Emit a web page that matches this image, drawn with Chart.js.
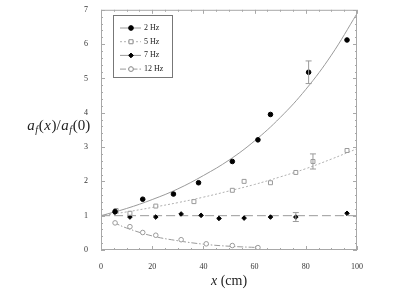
<!DOCTYPE html>
<html>
<head>
<meta charset="utf-8">
<script src="https://cdn.jsdelivr.net/npm/chart.js@4"></script>
<style>
  html, body { margin: 0; padding: 0; background: #fff; }
  #wrap { width: 402px; height: 296px; }
</style>
</head>
<body>
<div id="wrap"><canvas id="chart" width="402" height="296"></canvas></div>
<script>
// 2 Hz
const xTwo = [5.5, 16.3, 28.3, 38.1, 51.3, 61.3, 66.2, 81.1, 96.1];
const yTwo = [1.12, 1.48, 1.63, 1.96, 2.58, 3.21, 3.95, 5.18, 6.12];
const eTwo = [0, 0, 0, 0, 0, 0, 0, 0.33, 0];
const xTwoFit = [0, 10, 20, 30, 40, 50, 60, 70, 80, 90, 100];
const yTwoFit = [1, 1.21, 1.47, 1.78, 2.17, 2.62, 3.18, 3.86, 4.68, 5.68, 6.89];

// 5 Hz
const xFive = [5.9, 11.3, 21.4, 36.3, 51.3, 55.9, 66.2, 76.1, 82.8, 96.1];
const yFive = [1.15, 1.07, 1.28, 1.41, 1.74, 2.0, 1.96, 2.26, 2.58, 2.9];
const eFive = [0, 0, 0, 0, 0, 0, 0, 0, 0.22, 0];
const xFiveFit = [0, 10, 20, 30, 40, 50, 60, 70, 80, 90, 100];
const yFiveFit = [1, 1.11, 1.24, 1.38, 1.54, 1.72, 1.91, 2.13, 2.37, 2.65, 2.95];

// 7 Hz
const xSeven = [5.5, 11.3, 21.4, 31.3, 39.1, 46.1, 55.9, 66.2, 76.1, 96.1];
const ySeven = [1.1, 0.96, 0.96, 1.05, 1.01, 0.92, 0.93, 0.96, 0.96, 1.07];
const eSeven = [0, 0, 0, 0, 0, 0, 0, 0, 0.13, 0];
const xSevenFit = [0, 100];
const ySevenFit = [1, 1];

// 12 Hz
const xTwelve = [5.5, 11.3, 16.3, 21.4, 31.3, 41.1, 51.3, 61.3];
const yTwelve = [0.79, 0.68, 0.51, 0.43, 0.30, 0.18, 0.13, 0.07];
const xTwelveFit = [5, 10, 20, 30, 40, 50, 62];
const yTwelveFit = [0.80, 0.64, 0.41, 0.27, 0.17, 0.11, 0.07];

const seriesNames = ['2 Hz', '5 Hz', '7 Hz', '12 Hz'];

const serif = 'Liberation Serif';
const gray = '#9a9a9a';

function pts(xs, ys) {
  return xs.map((x, i) => ({ x: x, y: ys[i] }));
}

const fitStyles = [
  { borderColor: gray, borderDash: [] },
  { borderColor: '#b0b0b0', borderDash: [2, 2] },
  { borderColor: gray, borderDash: [9, 4] },
  { borderColor: gray, borderDash: [6, 2, 1.5, 2] }
];
const markStyles = [
  { pointStyle: 'circle', pointRadius: 2.3, pointBackgroundColor: '#000', pointBorderColor: '#000' },
  { pointStyle: 'rect', pointRadius: 2.8, pointBackgroundColor: '#fff', pointBorderColor: gray },
  { pointStyle: 'rectRot', pointRadius: 2.3, pointBackgroundColor: '#000', pointBorderColor: '#000' },
  { pointStyle: 'circle', pointRadius: 2.3, pointBackgroundColor: '#fff', pointBorderColor: gray }
];

const markData = [pts(xTwo, yTwo), pts(xFive, yFive), pts(xSeven, ySeven), pts(xTwelve, yTwelve)];
const fitData = [pts(xTwoFit, yTwoFit), pts(xFiveFit, yFiveFit), pts(xSevenFit, ySevenFit), pts(xTwelveFit, yTwelveFit)];
const errData = [eTwo, eFive, eSeven, null];

const datasets = [];
seriesNames.forEach((name, i) => {
  datasets.push(Object.assign({
    label: name + ' fit',
    data: fitData[i],
    showLine: true,
    borderWidth: 1,
    pointRadius: 0,
    tension: 0.4,
    order: 2
  }, fitStyles[i]));
  datasets.push(Object.assign({
    label: name,
    data: markData[i],
    showLine: false,
    pointBorderWidth: 1,
    order: 1
  }, markStyles[i]));
});

// ticks, frame, error bars, titles and legend
const decorPlugin = {
  id: 'decor',
  afterDatasetsDraw(chart) {
    const ctx = chart.ctx;
    const a = chart.chartArea;
    const xs = chart.scales.x, ys = chart.scales.y;
    ctx.save();

    // error bars
    ctx.strokeStyle = gray;
    ctx.lineWidth = 1;
    errData.forEach((errs, i) => {
      if (!errs) return;
      markData[i].forEach((p, j) => {
        if (!errs[j]) return;
        const px = xs.getPixelForValue(p.x);
        const y1 = ys.getPixelForValue(p.y + errs[j]);
        const y2 = ys.getPixelForValue(p.y - errs[j]);
        ctx.beginPath();
        ctx.moveTo(px, y1); ctx.lineTo(px, y2);
        ctx.moveTo(px - 3, y1); ctx.lineTo(px + 3, y1);
        ctx.moveTo(px - 3, y2); ctx.lineTo(px + 3, y2);
        ctx.stroke();
      });
    });

    // frame
    ctx.strokeStyle = '#a8a8a8';
    ctx.lineWidth = 1;
    ctx.strokeRect(a.left + 0.5, a.top + 0.5, a.right - a.left - 1, a.bottom - a.top - 1);

    // inward ticks
    ctx.beginPath();
    for (let v = 0; v <= 100; v += 5) {
      const px = Math.round(xs.getPixelForValue(v)) + 0.5;
      const len = v % 20 === 0 ? 4 : 2;
      ctx.moveTo(px, a.bottom); ctx.lineTo(px, a.bottom - len);
      ctx.moveTo(px, a.top); ctx.lineTo(px, a.top + len);
    }
    for (let k = 0; k <= 35; k++) {
      const v = k * 0.2;
      const py = Math.round(ys.getPixelForValue(v)) + 0.5;
      const len = k % 5 === 0 ? 4 : 2;
      ctx.moveTo(a.left, py); ctx.lineTo(a.left + len, py);
      ctx.moveTo(a.right, py); ctx.lineTo(a.right - len, py);
    }
    ctx.stroke();

    // x title: x (cm)
    ctx.fillStyle = '#222';
    ctx.textBaseline = 'alphabetic';
    const cx = (a.left + a.right) / 2;
    ctx.font = 'italic 14px "' + serif + '"';
    const w1 = ctx.measureText('x ').width;
    ctx.font = '14px "' + serif + '"';
    const w2 = ctx.measureText('(cm)').width;
    let tx = cx - (w1 + w2) / 2;
    ctx.font = 'italic 14px "' + serif + '"';
    ctx.fillText('x ', tx, 285);
    ctx.font = '14px "' + serif + '"';
    ctx.fillText('(cm)', tx + w1, 285);

    // y title: a_f(x)/a_f(0)
    const parts = [
      ['a', 'italic 15px', 0], ['f', 'italic 10px', 3], ['(', '15px', 0], ['x', 'italic 15px', 0],
      [')/', '15px', 0], ['a', 'italic 15px', 0], ['f', 'italic 10px', 3], ['(0)', '15px', 0]
    ];
    let total = 0;
    parts.forEach(p => { ctx.font = p[1] + ' "' + serif + '"'; total += ctx.measureText(p[0]).width + 0.6; });
    tx = 59 - total / 2;
    parts.forEach(p => {
      ctx.font = p[1] + ' "' + serif + '"';
      ctx.fillText(p[0], tx, 130 + p[2]);
      tx += ctx.measureText(p[0]).width + 0.6;
    });

    // legend box
    const bx = 113.5, by = 15.5, bw = 59, bh = 62;
    ctx.fillStyle = '#fff';
    ctx.fillRect(bx, by, bw, bh);
    ctx.strokeStyle = '#777';
    ctx.strokeRect(bx, by, bw, bh);
    ctx.font = '8px "' + serif + '"';
    ctx.textBaseline = 'middle';
    seriesNames.forEach((name, i) => {
      const ly = 28 + i * 13.7;
      const fs = fitStyles[i], ms = markStyles[i];
      ctx.strokeStyle = fs.borderColor;
      ctx.setLineDash(fs.borderDash);
      ctx.beginPath();
      ctx.moveTo(120, ly); ctx.lineTo(141, ly);
      ctx.stroke();
      ctx.setLineDash([]);
      Chart.helpers.drawPoint(ctx, {
        pointStyle: ms.pointStyle, radius: ms.pointRadius, borderWidth: 1, rotation: 0
      }, 131, ly);
      ctx.fillStyle = ms.pointBackgroundColor;
      ctx.strokeStyle = ms.pointBorderColor;
      ctx.fill();
      ctx.stroke();
      ctx.fillStyle = '#222';
      ctx.fillText(name, 144, ly);
    });
    ctx.restore();
  }
};

new Chart(document.getElementById('chart'), {
  type: 'scatter',
  data: { datasets: datasets },
  options: {
    responsive: false,
    animation: false,
    layout: { padding: { left: 0, right: 45, top: 7, bottom: 0 } },
    plugins: {
      legend: { display: false },
      tooltip: { enabled: false }
    },
    scales: {
      x: {
        type: 'linear',
        min: 0, max: 100,
        afterFit(scale) { scale.height = 46; },
        grid: { display: false },
        border: { display: false },
        ticks: { stepSize: 20, padding: 4, color: '#333', font: { family: serif, size: 8 } }
      },
      y: {
        type: 'linear',
        min: 0, max: 7,
        afterFit(scale) { scale.width = 101; },
        grid: { display: false },
        border: { display: false },
        ticks: { stepSize: 1, padding: 5, color: '#333', font: { family: serif, size: 8 } }
      }
    }
  },
  plugins: [decorPlugin]
});
</script>
</body>
</html>
